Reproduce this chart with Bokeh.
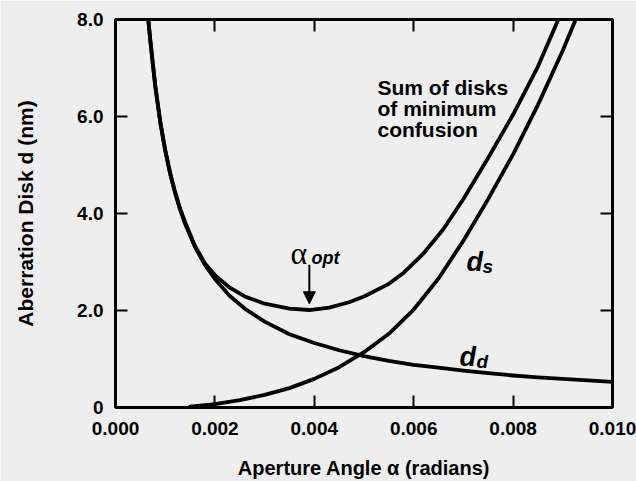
import math
from bokeh.plotting import figure
from bokeh.models import (Label, Arrow, NormalHead, LinearAxis, FixedTicker,
                          NumeralTickFormatter)
from bokeh.embed import file_html
from bokeh.resources import INLINE

# ---------------- data ----------------
x_ticks = [0.0, 0.002, 0.004, 0.006, 0.008, 0.010]
y_ticks = [0.0, 2.0, 4.0, 6.0, 8.0]

# diffraction disk d_d
alpha_dd = [0.00066, 0.0007, 0.0008, 0.0009, 0.0010, 0.0011, 0.0012, 0.0013,
            0.0014, 0.0016, 0.0018, 0.0020, 0.0023, 0.0026, 0.0030, 0.0035,
            0.0040, 0.0045, 0.0050, 0.0055, 0.0060, 0.0065, 0.0070, 0.0075,
            0.0080, 0.0085, 0.0090, 0.0095, 0.0100]
d_d = [8.0, 7.57, 6.63, 5.89, 5.30, 4.82, 4.42, 4.08,
       3.79, 3.31, 2.94, 2.65, 2.30, 2.04, 1.77, 1.51,
       1.33, 1.18, 1.06, 0.96, 0.88, 0.82, 0.76, 0.71,
       0.66, 0.62, 0.59, 0.56, 0.53]

# spherical aberration disk d_s
alpha_ds = [0.0015, 0.0020, 0.0025, 0.0030, 0.0035, 0.0040, 0.0045, 0.0050,
            0.0055, 0.0060, 0.0065, 0.0070, 0.0075, 0.0080, 0.0085, 0.0090,
            0.00926]
d_s = [0.02, 0.07, 0.15, 0.26, 0.40, 0.59, 0.83, 1.14,
       1.52, 2.02, 2.66, 3.44, 4.30, 5.22, 6.24, 7.36,
       8.0]

# sum of disks of minimum confusion
alpha_sum = [0.00066, 0.0007, 0.0008, 0.0009, 0.0010, 0.0011, 0.0012, 0.0013,
             0.0014, 0.0016, 0.0018, 0.0020, 0.0023, 0.0026, 0.0030, 0.0035,
             0.0039, 0.0043, 0.0047, 0.0050, 0.0055, 0.0058, 0.0062, 0.0066,
             0.0070, 0.0075, 0.0080, 0.0085, 0.00891]
d_sum = [8.0, 7.57, 6.63, 5.89, 5.31, 4.83, 4.44, 4.10,
         3.82, 3.33, 2.97, 2.73, 2.47, 2.29, 2.14, 2.04,
         2.01, 2.06, 2.17, 2.29, 2.55, 2.78, 3.18, 3.68,
         4.30, 5.15, 6.04, 7.03, 8.0]

alpha_opt = 0.0039

x_title = "Aperture Angle \u03b1 (radians)"
y_title = "Aberration Disk d (nm)"

# ---------------- layout ----------------
W, H = 636, 481
FL, FR, FT, FB = 115, 612, 19, 408          # frame edges in canvas pixels
X0, X1, Y0, Y1 = 0.0, 0.010, 0.0, 8.0


def px_x(px):
    return X0 + (px - FL) / (FR - FL) * (X1 - X0)


def px_y(py):
    return Y0 + (FB - py) / (FB - FT) * (Y1 - Y0)


BG = "#eeeeee"
SANS = "Liberation Sans"
SERIF = "Liberation Serif"

p = figure(width=W, height=H, x_range=(X0, X1), y_range=(Y0, Y1),
           output_backend="svg", toolbar_location=None,
           min_border_left=FL, min_border_right=W - FR,
           min_border_top=FT, min_border_bottom=H - FB)
p.background_fill_color = BG
p.border_fill_color = BG
p.grid.visible = False
p.outline_line_color = "black"
p.outline_line_width = 3


def style_axis(ax, ticks, labels=True):
    ax.ticker = FixedTicker(ticks=ticks)
    ax.axis_line_color = None
    ax.major_tick_in = 12
    ax.major_tick_out = 0
    ax.major_tick_line_width = 2
    ax.major_tick_line_color = "black"
    ax.minor_tick_line_color = None
    if labels:
        ax.major_label_text_font = SANS
        ax.major_label_text_font_style = "bold"
        ax.major_label_text_font_size = "19px"
        ax.major_label_text_color = "black"
        ax.axis_label_text_font = SANS
        ax.axis_label_text_font_style = "bold"
        ax.axis_label_text_font_size = "20px"
        ax.axis_label_text_color = "black"
    else:
        ax.major_label_overrides = {t: "" for t in ticks}
        ax.major_label_standoff = 0


xa = p.xaxis[0]
ya = p.yaxis[0]
style_axis(xa, x_ticks)
style_axis(ya, y_ticks)
xa.formatter = NumeralTickFormatter(format="0.000")
ya.formatter = NumeralTickFormatter(format="0.0")
ya.major_label_overrides = {0: "0"}
xa.major_label_standoff = 14
ya.major_label_standoff = 12
xa.axis_label = x_title
ya.axis_label = y_title
xa.axis_label_standoff = 19
ya.axis_label_standoff = 37
ya.axis_label_text_font_size = "21px"

top = LinearAxis()
right = LinearAxis()
style_axis(top, x_ticks, labels=False)
style_axis(right, y_ticks, labels=False)
p.add_layout(top, "above")
p.add_layout(right, "right")

# ---------------- curves ----------------
for xs, ys in ((alpha_dd, d_d), (alpha_ds, d_s), (alpha_sum, d_sum)):
    p.line(xs, ys, line_width=3.8, line_color="black",
           line_join="round", line_cap="round")


def lab(text, px, py, size, font=SANS, style="bold", align="left",
        baseline="alphabetic"):
    p.add_layout(Label(x=px_x(px), y=px_y(py), text=text,
                       text_font=font, text_font_style=style,
                       text_font_size=f"{size}px", text_color="black",
                       text_align=align, text_baseline=baseline))


# annotation: sum of disks
lab("Sum of disks", 377, 87, 21)
lab("of minimum", 377, 108, 21)
lab("confusion", 377, 129, 21)

# d_s and d_d
lab("d", 466, 262, 27, style="bold italic")
lab("s", 482, 267, 19, style="bold italic")
lab("d", 459, 357, 27, style="bold italic")
lab("d", 476, 362, 19, style="bold italic")

# alpha_opt and arrow
lab("\u03b1", 290, 253, 32, font=SERIF, style="normal")
lab("opt", 311, 258, 18, style="bold italic")
p.add_layout(Arrow(end=NormalHead(size=12, fill_color="black",
                                  line_color="black"),
                   x_start=alpha_opt, y_start=px_y(265),
                   x_end=alpha_opt, y_end=px_y(304),
                   line_width=2, line_color="black"))

open("out.html", "w").write(file_html(p, INLINE))
